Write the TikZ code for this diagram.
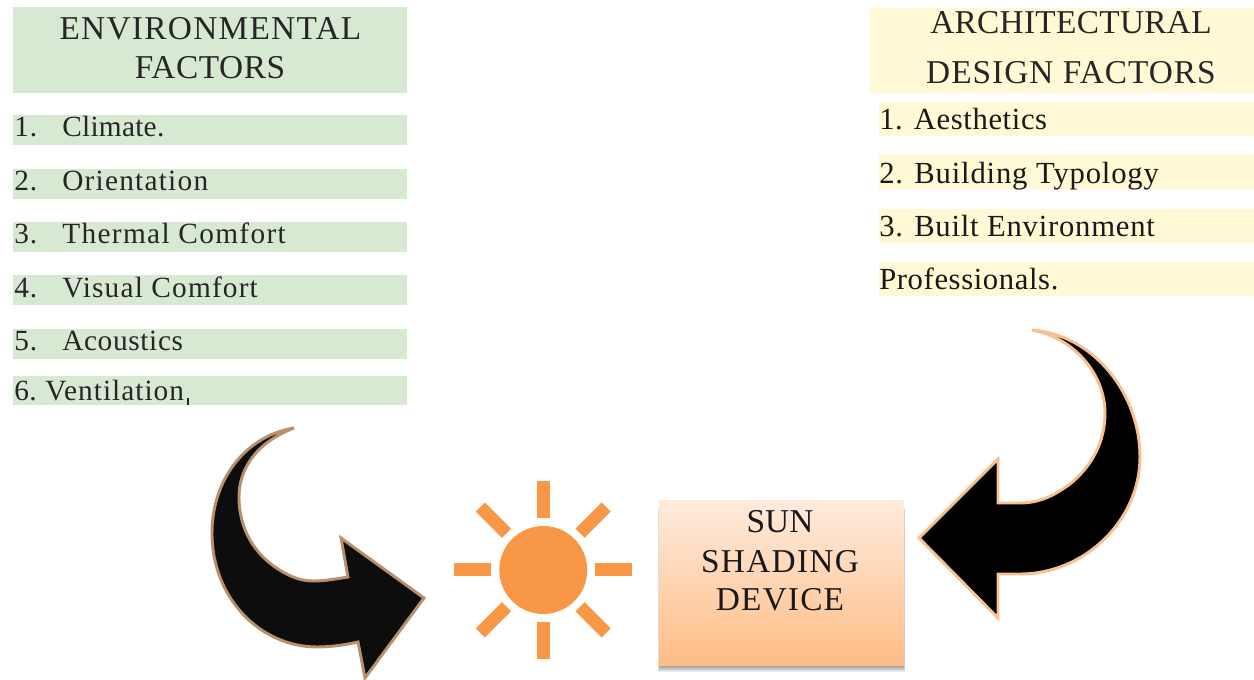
\documentclass[tikz,border=0pt]{standalone}
\usepackage{fontspec}
\setmainfont{Liberation Serif}
\definecolor{greenbar}{HTML}{D8E9D3}
\definecolor{yellowbar}{HTML}{FFF9D6}
\definecolor{sunorange}{HTML}{F89846}
\definecolor{inkdark}{HTML}{262626}
\definecolor{edgeleft}{HTML}{B8906C}
\definecolor{edgeright}{HTML}{F8BF90}
\definecolor{boxtop}{HTML}{FFEBDD}
\definecolor{boxbot}{HTML}{FFBC85}
\tikzset{
  x=0.75pt,y=-0.75pt,
  gbar/.style={fill=greenbar,draw=none},
  ybar/.style={fill=yellowbar,draw=none},
  ray/.style={fill=sunorange,draw=none},
  headtxt/.style={anchor=base,inner sep=0pt,text=inkdark,font=\fontsize{25}{25}\selectfont\addfontfeature{LetterSpace=#1}},
  lefttxt/.style={anchor=base west,inner sep=0pt,text=inkdark,font=\fontsize{22}{22}\selectfont\addfontfeature{LetterSpace=#1}},
  lefttxt/.default=3,
  righttxt/.style={anchor=base west,inner sep=0pt,text=black!90,font=\fontsize{23}{23}\selectfont\addfontfeature{LetterSpace=#1}},
  righttxt/.default=2,
  boxtxt/.style={anchor=base,inner sep=0pt,text=black!90,font=\fontsize{25}{25}\selectfont\addfontfeature{LetterSpace=#1}},
}
\begin{document}
\begin{tikzpicture}
\useasboundingbox (0,0) rectangle (1254,680);
% left column
\fill[gbar] (13,7) rectangle (407,93);
\fill[gbar] (13,115) rectangle (407,145);
\fill[gbar] (13,169) rectangle (407,199);
\fill[gbar] (13,222) rectangle (407,252);
\fill[gbar] (13,275) rectangle (407,305);
\fill[gbar] (13,329) rectangle (407,359);
\fill[gbar] (13,376) rectangle (407,405);
\node[headtxt=3.9] (env1) at (210.5,40) {ENVIRONMENTAL};
\node[headtxt=1.7] (env2) at (210,79) {FACTORS};
\node[lefttxt] (l1n) at (14,137) {1.};
\node[lefttxt=0.9] (l1) at (62,137) {Climate.};
\node[lefttxt] (l2n) at (14,191) {2.};
\node[lefttxt=4.2] (l2) at (62,191) {Orientation};
\node[lefttxt] (l3n) at (14,244) {3.};
\node[lefttxt=4.6] (l3) at (62,244) {Thermal Comfort};
\node[lefttxt] (l4n) at (14,298) {4.};
\node[lefttxt=4] (l4) at (62,298) {Visual Comfort};
\node[lefttxt] (l5n) at (14,351) {5.};
\node[lefttxt=2.2] (l5) at (62,351) {Acoustics};
\node[lefttxt=2] (l6n) at (14,401) {6.};
\node[lefttxt=3.4] (l6) at (45,401) {Ventilation};
\fill[black!85] (186.5,398) rectangle (189,405);
% right column
\fill[ybar] (870,8) rectangle (1254,93);
\fill[ybar] (879,102) rectangle (1254,136);
\fill[ybar] (879,155) rectangle (1254,189);
\fill[ybar] (879,209) rectangle (1254,243);
\fill[ybar] (879,262) rectangle (1254,296);
\node[headtxt=0.9] (arc1) at (1071,34) {ARCHITECTURAL};
\node[headtxt=3] (arc2) at (1071,84) {DESIGN FACTORS};
\node[righttxt] (r1) at (879,130) {1. Aesthetics};
\node[righttxt=2.7] (r2) at (879,184) {2. Building Typology};
\node[righttxt=2.5] (r3) at (879,237) {3. Built Environment};
\node[righttxt] (r4) at (879,290) {Professionals.};
% left arrow
\draw[line width=2.2pt,draw=edgeleft,fill=black!95,line join=miter]
  (294,428) .. controls (245,436) and (212,480) .. (212,533)
  .. controls (212,600) and (262,647) .. (317,647)
  .. controls (330,647) and (345,645) .. (358,642)
  -- (365,678) -- (424,598) -- (341,538) -- (348,577)
  .. controls (335,579) and (325,581) .. (313,581)
  .. controls (298,581) and (285,574) .. (275,567)
  .. controls (255,553) and (239,530) .. (239,497)
  .. controls (239,470) and (255,443) .. (294,428) -- cycle;
% right arrow
\draw[line width=2.2pt,draw=edgeright,fill=black,line join=miter]
  (1032,330) .. controls (1095,335) and (1140,395) .. (1140,457)
  .. controls (1140,520) and (1085,574) .. (1020,574)
  -- (998,574) -- (998,618) -- (919,538) -- (998,459) -- (998,503) -- (1020,503)
  .. controls (1040,503) and (1055,495) .. (1070,484)
  .. controls (1092,466) and (1105,442) .. (1105,413)
  .. controls (1105,375) and (1075,338) .. (1032,330) -- cycle;
% sun
\fill[sunorange] (543.3,570) circle[radius=44];
\foreach \a in {0,45,...,315}{
  \fill[ray,rotate around={\a:(543.3,570)}] (595.3,563.5) rectangle (632.3,576.5);
}
% box
\foreach \o in {7,6,5,4,3,2,1}{
  \fill[black,opacity=0.07] (660-\o*0.3,503+\o) rectangle (903+\o*0.3,665+\o);
}
\shade[top color=boxtop,bottom color=boxbot] (659,501) rectangle (904,666);
\node[boxtxt=0] (b1) at (780,533) {SUN};
\node[boxtxt=3.9] (b2) at (780,573) {SHADING};
\node[boxtxt=3.5] (b3) at (780,611) {DEVICE};
\end{tikzpicture}
\end{document}
